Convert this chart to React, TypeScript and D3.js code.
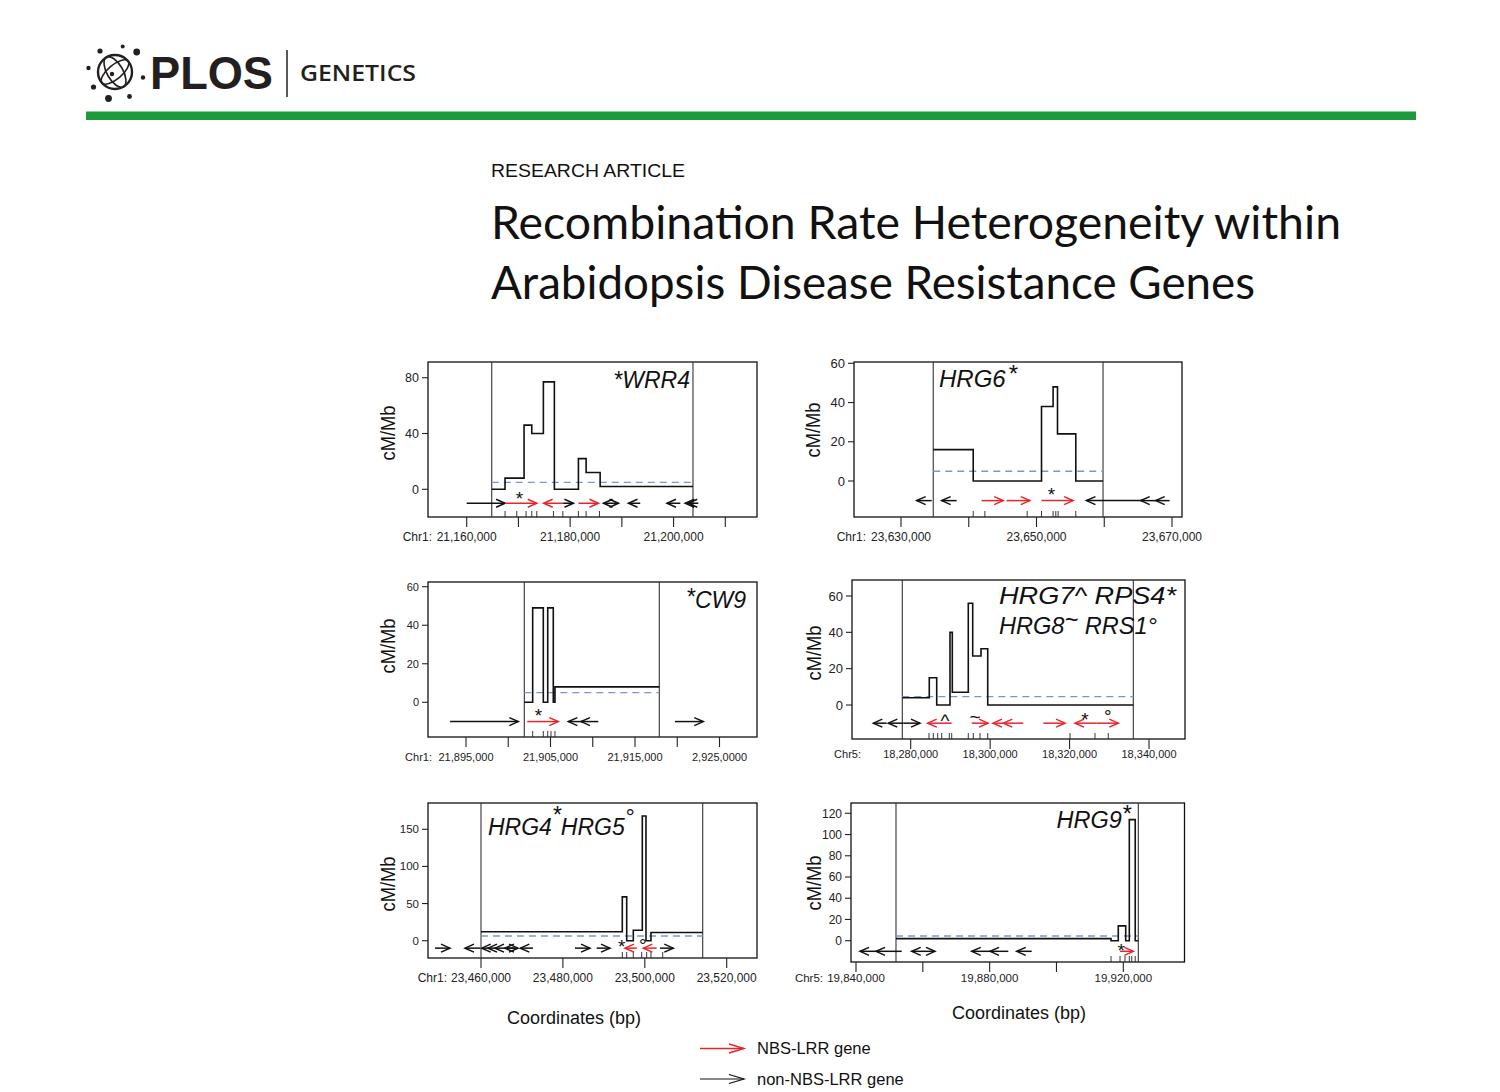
import React from 'react';
import * as d3 from 'd3';

const FONT = "'Liberation Sans', Arial, Helvetica, sans-serif";
const RED = '#e8252b';
const MEAN_COLOR = '#7d97c8';
const GREEN = '#1c9b3c';

type Gene = [number, number, number, number]; // start bp, end bp, direction (+1 right / -1 left), NBS-LRR (1) or not (0)
type Note = [number, number, string]; // bp, cM/Mb (centre), symbol

// ---------------- WRR4 ----------------
const wrr4Steps: [number, number][] = [[21164840, 0], [21167410, 8], [21171090, 46], [21172580, 40], [21174825, 77], [21176950, 0], [21181600, 22], [21183090, 12], [21185800, 2]];
const wrr4End = 21203750;
const wrr4Bounds = [21164840, 21203750];
const wrr4Mean = 5;
const wrr4Genes: Gene[] = [
  [21160000, 21167420, 1, 0], [21167420, 21173550, 1, 1], [21174880, 21178650, -1, 1], [21178650, 21180640, 1, 0],
  [21181600, 21185480, 1, 1], [21186450, 21188330, -1, 0], [21188330, 21189350, 1, 0], [21191280, 21193550, -1, 0],
  [21198720, 21201300, -1, 0], [21202260, 21203600, -1, 0], [21202840, 21204780, -1, 0],
];
const wrr4Markers = [21167420, 21169680, 21171480, 21172580, 21173550, 21176770, 21178590, 21181600, 21183090, 21185670];
const wrr4Notes: Note[] = [[21170180, -4, '*']];
const wrr4XTicks = [21160000, 21170000, 21180000, 21190000, 21200000, 21210000];
const wrr4XLabelTicks = [21160000, 21180000, 21200000];
const wrr4XLabels = ['21,160,000', '21,180,000', '21,200,000'];
const wrr4YTicks = [0, 40, 80];

// ---------------- HRG6 ----------------
const hrg6Steps: [number, number][] = [[23634760, 16], [23640660, 0], [23650740, 38], [23652450, 48], [23653100, 24], [23655800, 0]];
const hrg6End = 23659820;
const hrg6Bounds = [23634760, 23659820];
const hrg6Mean = 5;
const hrg6Genes: Gene[] = [
  [23632310, 23634530, -1, 0], [23636000, 23638210, -1, 0], [23641900, 23645080, 1, 1], [23645580, 23649010, 1, 1],
  [23650740, 23655400, 1, 1], [23657370, 23665720, -1, 0], [23665380, 23667590, -1, 0], [23667590, 23669650, -1, 0],
];
const hrg6Markers = [23640660, 23642380, 23648620, 23650740, 23652450, 23652850, 23653190, 23655800];
const hrg6Notes: Note[] = [[23652210, -5, '*']];
const hrg6XTicks = [23630000, 23640000, 23650000, 23660000, 23670000];
const hrg6XLabelTicks = [23630000, 23650000, 23670000];
const hrg6XLabels = ['23,630,000', '23,650,000', '23,670,000'];
const hrg6YTicks = [0, 20, 40, 60];

// ---------------- CW9 ----------------
const cw9Steps: [number, number][] = [[21901900, 0], [21902890, 49], [21904150, 0], [21904670, 49], [21905330, 0], [21905530, 8]];
const cw9End = 21917875;
const cw9Bounds = [21901900, 21917875];
const cw9Mean = 5;
const cw9Genes: Gene[] = [
  [21893110, 21901190, 1, 0], [21902250, 21905920, 1, 1], [21907110, 21908880, -1, 0], [21908610, 21910660, -1, 0],
  [21919730, 21923080, 1, 0],
];
const cw9Markers = [21902890, 21904150, 21904670, 21905060, 21905530];
const cw9Notes: Note[] = [[21903560, -5, '*']];
const cw9XTicks = [21895000, 21900000, 21905000, 21910000, 21915000, 21920000, 21925000];
const cw9XLabelTicks = [21895000, 21905000, 21915000, 21925000];
const cw9XLabels = ['21,895,000', '21,905,000', '21,915,000', '2,925,0000'];
const cw9YTicks = [0, 20, 40, 60];

// ---------------- HRG7 / RPS4 / HRG8 / RRS1 ----------------
const rpsSteps: [number, number][] = [[18277885, 4], [18284680, 15], [18286550, 0], [18289895, 40], [18290475, 7], [18294500, 56], [18295610, 27], [18297700, 31], [18299390, 0]];
const rpsEnd = 18336050;
const rpsBounds = [18277885, 18336050];
const rpsMean = 4.6;
const rpsGenes: Gene[] = [
  [18270585, 18273960, -1, 0], [18274360, 18278140, -1, 0], [18278140, 18282340, 1, 0],
  [18284280, 18290320, -1, 1], [18295360, 18299460, 1, 1], [18300720, 18303315, -1, 1], [18303315, 18308350, -1, 1],
  [18313390, 18318850, 1, 1], [18321370, 18326830, -1, 1], [18326830, 18332270, 1, 1],
];
const rpsMarkers = [18284610, 18285690, 18286800, 18287800, 18289720, 18290320, 18294500, 18295760, 18297450, 18299390, 18320110, 18326400, 18329750];
const rpsNotes: Note[] = [[18288640, -6.5, '^'], [18296190, -6.5, '~'], [18323880, -6, '*'], [18329600, -4, '°']];
const rpsXTicks = [18280000, 18300000, 18320000, 18340000];
const rpsXLabelTicks = [18280000, 18300000, 18320000, 18340000];
const rpsXLabels = ['18,280,000', '18,300,000', '18,320,000', '18,340,000'];
const rpsYTicks = [0, 20, 40, 60];

// ---------------- HRG4 / HRG5 ----------------
const hrg4Steps: [number, number][] = [[23460000, 12], [23494505, 59], [23495580, 0], [23497190, 14], [23499390, 168], [23500290, 0], [23501510, 11]];
const hrg4End = 23514140;
const hrg4Bounds = [23460000, 23514140];
const hrg4Mean = 6.3;
const hrg4Genes: Gene[] = [
  [23448770, 23452430, 1, 0], [23456090, 23459760, -1, 0], [23460170, 23462200, -1, 0], [23461710, 23463910, -1, 0],
  [23463420, 23465860, -1, 0], [23465860, 23468200, -1, 0], [23466500, 23469035, 1, 0], [23469600, 23472700, -1, 0],
  [23482950, 23486620, 1, 0], [23488250, 23491500, 1, 0], [23495160, 23498020, -1, 1], [23499630, 23502900, -1, 1],
  [23503710, 23506960, 1, 0],
];
const hrg4Markers = [23494505, 23495580, 23497190, 23499240, 23500460, 23501510, 23504370];
const hrg4Notes: Note[] = [[23494360, -3, '*'], [23499490, -1.5, '°']];
const hrg4XTicks = [23460000, 23480000, 23500000, 23520000];
const hrg4XLabelTicks = [23460000, 23480000, 23500000, 23520000];
const hrg4XLabels = ['23,460,000', '23,480,000', '23,500,000', '23,520,000'];
const hrg4YTicks = [0, 50, 100, 150];

// ---------------- HRG9 ----------------
const hrg9Steps: [number, number][] = [[19851970, 2], [19916320, 0], [19918500, 14], [19920720, 0], [19921800, 114], [19923570, 0]];
const hrg9End = 19924490;
const hrg9Bounds = [19851970, 19924490];
const hrg9Mean = 4.4;
const hrg9Genes: Gene[] = [
  [19841200, 19846580, -1, 0], [19845990, 19853680, -1, 0], [19856670, 19859750, -1, 0], [19859750, 19863640, 1, 0],
  [19874630, 19880110, -1, 0], [19880110, 19885580, -1, 0], [19888100, 19892590, -1, 0], [19919020, 19923000, 1, 1],
];
const hrg9Markers = [19916320, 19919020, 19920510, 19921800, 19922520, 19923570];
const hrg9Notes: Note[] = [[19919390, -5.5, '*']];
const hrg9XTicks = [19840000, 19860000, 19880000, 19900000, 19920000];
const hrg9XLabelTicks = [19840000, 19880000, 19920000];
const hrg9XLabels = ['19,840,000', '19,880,000', '19,920,000'];
const hrg9YTicks = [0, 20, 40, 60, 80, 100, 120];

const GENE_ROW = -10;

interface Layout {
  left: number; right: number; top: number; bottom: number;
  xRange: [number, number]; yRange: [number, number];
  xFs: number; yFs: number; xLabelDy: number; chrX: number; chr: string;
  yLabelX: number; yLabelY: number;
}

interface Spec {
  steps: [number, number][]; end: number; bounds: number[]; mean: number;
  genes: Gene[]; markers: number[]; notes: Note[];
  xTicks: number[]; xLabelTicks: number[]; xLabels: string[]; yTicks: number[];
  layout: Layout; title: React.ReactNode;
}

function Arrow({ x1, x2, y, dir, color, len = 9, half = 4, w = 1.5 }: any) {
  const tip = dir > 0 ? x2 : x1;
  const back = tip - dir * len;
  return (
    <g stroke={color} strokeWidth={w} fill="none">
      <line x1={x1} x2={x2} y1={y} y2={y} />
      <path d={`M${back},${y - half}L${tip},${y}L${back},${y + half}`} />
    </g>
  );
}

function noteDy(sym: string, fs: number) {
  if (sym === '*') return 0.55 * fs;
  if (sym === '^') return 0.55 * fs;
  if (sym === '~') return 0.3 * fs;
  if (sym === '°') return 0.55 * fs;
  return 0.35 * fs;
}

function Panel({ spec }: { spec: Spec }) {
  const L = spec.layout;
  const x = d3.scaleLinear().domain([spec.xTicks[0], spec.xTicks[spec.xTicks.length - 1]]).range(L.xRange);
  const y = d3.scaleLinear().domain([0, spec.yTicks[spec.yTicks.length - 1]]).range(L.yRange);
  const pts: [number, number][] = [...spec.steps, [spec.end, spec.steps[spec.steps.length - 1][1]]];
  const line = d3.line<[number, number]>().x(d => x(d[0])).y(d => y(d[1])).curve(d3.curveStepAfter);
  const gy = y(GENE_ROW);
  return (
    <g fontFamily={FONT}>
      <rect x={L.left} y={L.top} width={L.right - L.left} height={L.bottom - L.top} fill="none" stroke="#111" strokeWidth={1.3} />
      {spec.bounds.map((b, i) => (
        <line key={'b' + i} x1={x(b)} x2={x(b)} y1={L.top} y2={L.bottom} stroke="#333" strokeWidth={1.1} />
      ))}
      <line x1={x(spec.bounds[0])} x2={x(spec.bounds[1])} y1={y(spec.mean)} y2={y(spec.mean)} stroke={MEAN_COLOR} strokeWidth={1.4} strokeDasharray="7,5" />
      <path d={line(pts) || ''} fill="none" stroke="#111" strokeWidth={1.6} />
      {spec.genes.map((g, i) => (
        <Arrow key={'g' + i} x1={x(g[0])} x2={x(g[1])} y={gy} dir={g[2]} color={g[3] ? RED : '#111'} />
      ))}
      {spec.markers.map((m, i) => (
        <line key={'m' + i} x1={x(m)} x2={x(m)} y1={L.bottom - 6} y2={L.bottom} stroke="#222" strokeWidth={0.9} />
      ))}
      {spec.notes.map((n, i) => (
        <text key={'n' + i} x={x(n[0])} y={y(n[1]) + noteDy(n[2], 19)} fontSize={19} textAnchor="middle" fill="#111">{n[2]}</text>
      ))}
      {spec.xTicks.map((t, i) => (
        <line key={'xt' + i} x1={x(t)} x2={x(t)} y1={L.bottom} y2={L.bottom + 10} stroke="#222" strokeWidth={1.1} />
      ))}
      {spec.xLabelTicks.map((t, i) => (
        <text key={'xl' + i} x={x(t)} y={L.bottom + L.xLabelDy} fontSize={L.xFs} textAnchor="middle" fill="#222">{spec.xLabels[i]}</text>
      ))}
      <text x={L.chrX} y={L.bottom + L.xLabelDy} fontSize={L.xFs} textAnchor="end" fill="#222">{L.chr}</text>
      {spec.yTicks.map((t, i) => (
        <g key={'yt' + i}>
          <line x1={L.left - 6} x2={L.left} y1={y(t)} y2={y(t)} stroke="#222" strokeWidth={1.1} />
          <text x={L.left - 9} y={y(t) + L.yFs * 0.35} fontSize={L.yFs} textAnchor="end" fill="#222">{t}</text>
        </g>
      ))}
      <text transform={`translate(${L.yLabelX},${L.yLabelY}) rotate(-90)`} fontSize={20} textAnchor="middle" fill="#111" textLength={55} lengthAdjust="spacingAndGlyphs">cM/Mb</text>
      {spec.title}
    </g>
  );
}

const TS = { fontFamily: FONT, fontStyle: 'italic' as const, fill: '#111' };

const panels: Spec[] = [
  {
    steps: wrr4Steps, end: wrr4End, bounds: wrr4Bounds, mean: wrr4Mean, genes: wrr4Genes, markers: wrr4Markers, notes: wrr4Notes,
    xTicks: wrr4XTicks, xLabelTicks: wrr4XLabelTicks, xLabels: wrr4XLabels, yTicks: wrr4YTicks,
    layout: { left: 428, right: 757, top: 362, bottom: 517, xRange: [466.7, 725.3], yRange: [489.3, 377.7], xFs: 12, yFs: 12.5, xLabelDy: 24, chrX: 432, chr: 'Chr1:', yLabelX: 395, yLabelY: 433 },
    title: <text x={690} y={388} fontSize={23} textAnchor="end" style={TS}>*WRR4</text>,
  },
  {
    steps: hrg6Steps, end: hrg6End, bounds: hrg6Bounds, mean: hrg6Mean, genes: hrg6Genes, markers: hrg6Markers, notes: hrg6Notes,
    xTicks: hrg6XTicks, xLabelTicks: hrg6XLabelTicks, xLabels: hrg6XLabels, yTicks: hrg6YTicks,
    layout: { left: 854, right: 1182, top: 362, bottom: 517, xRange: [901, 1172], yRange: [481, 363.3], xFs: 12, yFs: 13, xLabelDy: 24, chrX: 866, chr: 'Chr1:', yLabelX: 820, yLabelY: 430 },
    title: <text x={939} y={387} fontSize={24} style={TS}>HRG6<tspan dy={-5} dx={2}>*</tspan></text>,
  },
  {
    steps: cw9Steps, end: cw9End, bounds: cw9Bounds, mean: cw9Mean, genes: cw9Genes, markers: cw9Markers, notes: cw9Notes,
    xTicks: cw9XTicks, xLabelTicks: cw9XLabelTicks, xLabels: cw9XLabels, yTicks: cw9YTicks,
    layout: { left: 428, right: 757, top: 582, bottom: 737, xRange: [466, 719.5], yRange: [702.3, 586.7], xFs: 11, yFs: 11, xLabelDy: 24, chrX: 432, chr: 'Chr1:', yLabelX: 395, yLabelY: 646 },
    title: <text x={686} y={608} fontSize={23} style={TS}><tspan dy={-3}>*</tspan><tspan dy={3}>CW9</tspan></text>,
  },
  {
    steps: rpsSteps, end: rpsEnd, bounds: rpsBounds, mean: rpsMean, genes: rpsGenes, markers: rpsMarkers, notes: rpsNotes,
    xTicks: rpsXTicks, xLabelTicks: rpsXLabelTicks, xLabels: rpsXLabels, yTicks: rpsYTicks,
    layout: { left: 852, right: 1185, top: 580, bottom: 739, xRange: [910.7, 1149], yRange: [705, 596], xFs: 11, yFs: 13, xLabelDy: 19, chrX: 861, chr: 'Chr5:', yLabelX: 821, yLabelY: 653 },
    title: (
      <g>
        <text x={999} y={604} fontSize={24} style={TS} textLength={177} lengthAdjust="spacingAndGlyphs">HRG7^ RPS4*</text>
        <text x={999} y={634} fontSize={24} style={TS} textLength={158} lengthAdjust="spacingAndGlyphs">HRG8<tspan dy={-6}>~</tspan><tspan dy={6}> RRS1°</tspan></text>
      </g>
    ),
  },
  {
    steps: hrg4Steps, end: hrg4End, bounds: hrg4Bounds, mean: hrg4Mean, genes: hrg4Genes, markers: hrg4Markers, notes: hrg4Notes,
    xTicks: hrg4XTicks, xLabelTicks: hrg4XLabelTicks, xLabels: hrg4XLabels, yTicks: hrg4YTicks,
    layout: { left: 428, right: 757, top: 803, bottom: 958, xRange: [481, 726.7], yRange: [940.7, 829.3], xFs: 12, yFs: 11.5, xLabelDy: 24, chrX: 447, chr: 'Chr1:', yLabelX: 395, yLabelY: 884 },
    title: <text x={488} y={835} fontSize={23} style={TS}>HRG4<tspan dy={-12}>*</tspan><tspan dy={12}>HRG5</tspan><tspan dy={-10}>°</tspan></text>,
  },
  {
    steps: hrg9Steps, end: hrg9End, bounds: hrg9Bounds, mean: hrg9Mean, genes: hrg9Genes, markers: hrg9Markers, notes: hrg9Notes,
    xTicks: hrg9XTicks, xLabelTicks: hrg9XLabelTicks, xLabels: hrg9XLabels, yTicks: hrg9YTicks,
    layout: { left: 851, right: 1184.5, top: 803, bottom: 962, xRange: [856, 1123.3], yRange: [940.7, 813.3], xFs: 11.5, yFs: 12, xLabelDy: 20, chrX: 823, chr: 'Chr5:', yLabelX: 821, yLabelY: 883 },
    title: <text x={1131} y={828} fontSize={23.5} textAnchor="end" style={TS}>HRG9<tspan dy={-6}>*</tspan></text>,
  },
];

const logoDots: [number, number, number][] = [
  [100, 51, 2.6], [122.7, 46.5, 2], [136.7, 52, 3.4], [88.5, 68, 2.2], [143, 77.5, 2.2], [93.5, 87, 2.6], [108.5, 98.5, 3.4], [129.5, 96.5, 2.4],
];

function Logo() {
  return (
    <g>
      <g fill="none" stroke="#231f20" strokeWidth={2.4}>
        <circle cx={115} cy={72} r={17} />
        <ellipse cx={115} cy={72} rx={17} ry={7} transform="rotate(-40 115 72)" strokeWidth={1.6} />
        <ellipse cx={115} cy={72} rx={17} ry={8} transform="rotate(60 115 72)" strokeWidth={1.6} />
      </g>
      <circle cx={112} cy={74} r={2.2} fill="#231f20" />
      {logoDots.map((d, i) => <circle key={i} cx={d[0]} cy={d[1]} r={d[2]} fill="#231f20" />)}
      <text x={150} y={89} fontFamily="'Liberation Sans', Arial, sans-serif" fontWeight={900} fontSize={46} fill="#231f20" textLength={123} lengthAdjust="spacingAndGlyphs">PLOS</text>
      <line x1={287} x2={287} y1={50} y2={97} stroke="#231f20" strokeWidth={1.5} />
      <text x={300} y={81} fontFamily="'Open Sans', 'Liberation Sans', sans-serif" fontWeight={600} fontSize={21} fill="#231f20" textLength={116} lengthAdjust="spacingAndGlyphs">GENETICS</text>
    </g>
  );
}

export default function App() {
  return (
    <svg width={1500} height={1092} style={{ position: 'absolute', left: 0, top: 0, background: '#fff' }}>
      <rect x={0} y={0} width={1500} height={1092} fill="#fff" />
      <Logo />
      <rect x={86} y={111.5} width={1330} height={8.5} fill={GREEN} />
      <text x={491} y={177} fontFamily={FONT} fontSize={19} fill="#111" textLength={194} lengthAdjust="spacingAndGlyphs">RESEARCH ARTICLE</text>
      <text x={491} y={239} fontFamily="Lato, 'Open Sans', sans-serif" fontSize={46} fill="#111" textLength={850} lengthAdjust="spacingAndGlyphs">Recombination Rate Heterogeneity within</text>
      <text x={491} y={299} fontFamily="Lato, 'Open Sans', sans-serif" fontSize={46} fill="#111" textLength={764} lengthAdjust="spacingAndGlyphs">Arabidopsis Disease Resistance Genes</text>
      {panels.map((p, i) => <Panel key={i} spec={p} />)}
      <text x={574} y={1024} fontFamily={FONT} fontSize={18} textAnchor="middle" fill="#111">Coordinates (bp)</text>
      <text x={1019} y={1019} fontFamily={FONT} fontSize={18} textAnchor="middle" fill="#111">Coordinates (bp)</text>
      <Arrow x1={700} x2={744} y={1048.5} dir={1} color={RED} len={15} half={4.5} w={1.4} />
      <text x={757} y={1054} fontFamily={FONT} fontSize={16.5} fill="#111">NBS-LRR gene</text>
      <Arrow x1={700} x2={744} y={1079} dir={1} color="#111" len={15} half={4.5} w={1.2} />
      <text x={757} y={1084.5} fontFamily={FONT} fontSize={16.5} fill="#111">non-NBS-LRR gene</text>
    </svg>
  );
}
